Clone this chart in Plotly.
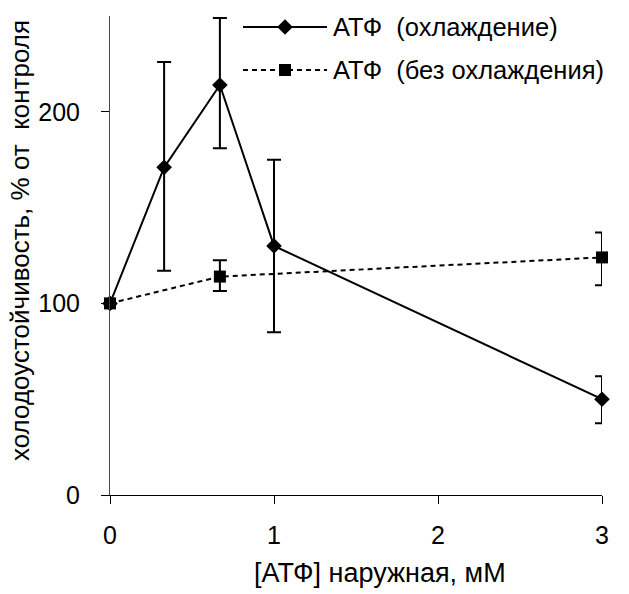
import plotly.graph_objects as go

# Data
x_cool = [0, 0.33, 0.67, 1, 3]
y_cool = [100, 171, 214, 130, 50]
err_cool_plus = [0, 55, 35, 45, 12]
err_cool_minus = [0, 54, 33, 45, 12.5]

x_nocool = [0, 0.67, 3]
y_nocool = [100, 114, 124]
err_nocool_plus = [0, 8.5, 13]
err_nocool_minus = [0, 7.5, 14.5]

legend_names = ["АТФ  (охлаждение)", "АТФ  (без охлаждения)"]
x_ticks = [0, 1, 2, 3]
y_ticks = [0, 100, 200]

FONT = "Liberation Sans, Arial, sans-serif"
FS = 25

fig = go.Figure()

fig.add_trace(go.Scatter(
    x=x_cool, y=y_cool, mode="lines+markers",
    line=dict(color="black", width=2),
    marker=dict(symbol="diamond", size=12, color="black"),
    error_y=dict(type="data", array=err_cool_plus, arrayminus=err_cool_minus,
                 color="black", thickness=2, width=7),
    cliponaxis=False, showlegend=False))

fig.add_trace(go.Scatter(
    x=x_nocool, y=y_nocool, mode="lines+markers",
    line=dict(color="black", width=2, dash="5px,4px"),
    marker=dict(symbol="square", size=12, color="black"),
    error_y=dict(type="data", array=err_nocool_plus, arrayminus=err_nocool_minus,
                 color="black", thickness=2, width=7),
    cliponaxis=False, showlegend=False))

# Custom legend drawn on an overlay axis
# plot area: x 110..602, y 16..495
def px_x(p):
    return (p - 110) / 492.0

def px_y(p):
    return (495 - p) / 479.0

leg_rows = [(27, "solid", "diamond", 12), (70, "5px,4px", "square", 12)]
for (py, dash, sym, sz), name in zip(leg_rows, legend_names):
    fig.add_trace(go.Scatter(
        x=[px_x(243), px_x(285), px_x(327)], y=[px_y(py)] * 3,
        xaxis="x2", yaxis="y2", mode="lines",
        line=dict(color="black", width=2, dash=dash),
        showlegend=False, hoverinfo="skip", cliponaxis=False))
    fig.add_trace(go.Scatter(
        x=[px_x(285)], y=[px_y(py)], xaxis="x2", yaxis="y2", mode="markers",
        marker=dict(symbol=sym, size=sz, color="black"),
        showlegend=False, hoverinfo="skip", cliponaxis=False))
    fig.add_annotation(x=px_x(331), y=px_y(py), xref="paper", yref="paper",
                       text=name, showarrow=False, xanchor="left", yanchor="middle",
                       font=dict(family=FONT, size=25.5, color="black"))

fig.update_layout(
    width=629, height=594,
    margin=dict(l=110, r=27, t=16, b=99),
    paper_bgcolor="white", plot_bgcolor="white",
    font=dict(family=FONT, size=FS, color="black"),
    showlegend=False,
    xaxis=dict(range=[0, 3], tickvals=x_ticks, ticks="outside", ticklen=8,
               tickcolor="black", showline=True, linecolor="black", linewidth=1,
               showgrid=False, zeroline=False, ticklabelstandoff=10,
               tickfont=dict(family=FONT, size=FS)),
    yaxis=dict(range=[0, 250], tickvals=y_ticks, ticks="outside", ticklen=8,
               tickcolor="black", showline=True, linecolor="#444", linewidth=1,
               showgrid=False, zeroline=False, ticklabelstandoff=16,
               tickfont=dict(family=FONT, size=FS)),
    xaxis2=dict(range=[0, 1], overlaying="x", visible=False, fixedrange=True),
    yaxis2=dict(range=[0, 1], overlaying="y", visible=False, fixedrange=True),
)

fig.add_annotation(x=(380 - 110) / 492.0, y=(495 - 573) / 479.0, xref="paper", yref="paper",
                   text="[АТФ] наружная, мМ", showarrow=False,
                   xanchor="center", yanchor="middle",
                   font=dict(family=FONT, size=27, color="black"))
fig.add_annotation(x=(20 - 110) / 492.0, y=(495 - 241) / 479.0, xref="paper", yref="paper",
                   text="холодоустойчивость, % от  контроля", showarrow=False, textangle=-90,
                   xanchor="center", yanchor="middle",
                   font=dict(family=FONT, size=26, color="black"))

fig.write_html("out.html")
